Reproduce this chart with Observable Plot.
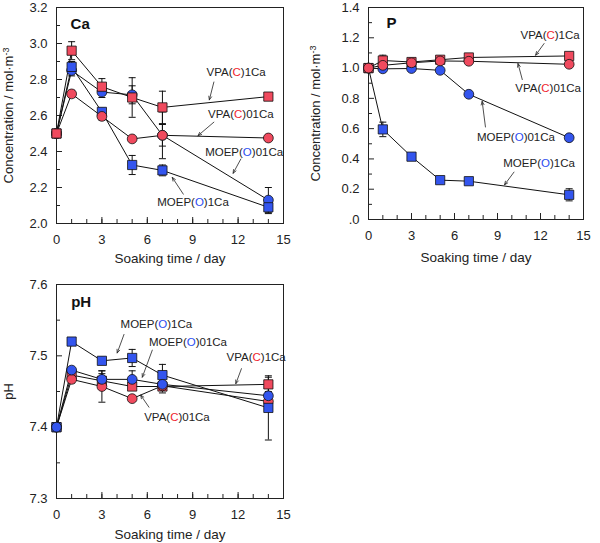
<!DOCTYPE html>
<html>
<head>
<meta charset="utf-8">
<script src="https://cdn.jsdelivr.net/npm/d3@7"></script>
<script src="https://cdn.jsdelivr.net/npm/@observablehq/plot@0.6"></script>
<style>
  html, body { margin: 0; padding: 0; background: #fff; }
  #wrap { position: relative; width: 600px; height: 543px; font-family: "Liberation Sans", Arial, sans-serif; }
  .panel { position: absolute; }
</style>
</head>
<body>
<div id="wrap">
  <div class="panel" id="ca" style="left:0;top:0"></div>
  <div class="panel" id="p" style="left:300px;top:0"></div>
  <div class="panel" id="ph" style="left:0;top:260px"></div>
</div>
<script>
// ---------- data ----------
const days = [0, 1, 3, 5, 7, 14];
const seriesNames = ["VPA(C)1Ca", "VPA(C)01Ca", "MOEP(O)01Ca", "MOEP(O)1Ca"];
const xTicks = [0, 3, 6, 9, 12, 15];
const xMinor = [0, 1, 2, 3, 4, 5, 6, 7, 8, 9, 10, 11, 12, 13, 14, 15];

// Ca panel
const caVPA1 = [2.50, 2.96, 2.76, 2.70, 2.645, 2.705];
const caVPA1Err = [0, 0.05, 0.045, 0.11, 0.09, 0.01];
const caVPA01 = [2.50, 2.72, 2.595, 2.47, 2.49, 2.475];
const caVPA01Err = [0, 0.02, 0.02, 0, 0.06, 0];
const caMOEP01 = [2.50, 2.85, 2.73, 2.715, 2.49, 2.13];
const caMOEP01Err = [0, 0.03, 0.03, 0.05, 0.13, 0.07];
const caMOEP1 = [2.50, 2.87, 2.62, 2.325, 2.295, 2.09];
const caMOEP1Err = [0, 0.03, 0.02, 0.053, 0.03, 0.035];
const caYTicks = [2.0, 2.2, 2.4, 2.6, 2.8, 3.0, 3.2];
const caYMinor = [2.1, 2.3, 2.5, 2.7, 2.9, 3.1];
const caAnnText = ["VPA(C)1Ca", "VPA(C)01Ca", "MOEP(O)01Ca", "MOEP(O)1Ca"];
const caAnnX = [11.87, 12.18, 12.4, 9.02];
const caAnnY = [2.841, 2.609, 2.396, 2.117];
const caArrX1 = [10.4, 10.4, 12.18, 8.38];
const caArrY1 = [2.786, 2.563, 2.358, 2.163];
const caArrX2 = [10.1, 9.35, 11.67, 7.65];
const caArrY2 = [2.687, 2.488, 2.279, 2.256];

// P panel
const pVPA1 = [1.0, 1.05, 1.04, 1.055, 1.07, 1.08];
const pVPA1Err = [0, 0.035, 0.02, 0.015, 0.01, 0.01];
const pVPA01 = [1.0, 1.018, 1.035, 1.047, 1.045, 1.025];
const pVPA01Err = [0, 0, 0, 0, 0, 0];
const pMOEP01 = [1.0, 0.995, 0.997, 0.985, 0.827, 0.54];
const pMOEP01Err = [0, 0, 0, 0, 0, 0];
const pMOEP1 = [1.0, 0.595, 0.415, 0.26, 0.253, 0.163];
const pMOEP1Err = [0, 0.048, 0.01, 0.01, 0.01, 0.04];
const pYTicks = [0, 0.2, 0.4, 0.6, 0.8, 1.0, 1.2, 1.4];
const pYMinor = [0.1, 0.3, 0.5, 0.7, 0.9, 1.1, 1.3];
const pAnnText = ["VPA(C)1Ca", "VPA(C)01Ca", "MOEP(O)01Ca", "MOEP(O)1Ca"];
const pAnnX = [12.67, 12.53, 10.29, 11.9];
const pAnnY = [1.217, 0.864, 0.545, 0.368];
const pArrX1 = [12.25, 10.73, 8.16, 10.15];
const pArrY1 = [1.162, 0.924, 0.611, 0.313];
const pArrX2 = [11.66, 10.43, 7.93, 9.49];
const pArrY2 = [1.085, 1.03, 0.78, 0.229];

// pH panel
const phVPA1 = [7.40, 7.473, 7.465, 7.457, 7.457, 7.46];
const phVPA1Err = [0, 0, 0.01, 0, 0, 0.01];
const phVPA01 = [7.40, 7.467, 7.457, 7.44, 7.458, 7.436];
const phVPA01Err = [0, 0.005, 0.022, 0, 0.01, 0];
const phMOEP01 = [7.40, 7.48, 7.467, 7.467, 7.46, 7.444];
const phMOEP01Err = [0, 0, 0.012, 0.012, 0, 0];
const phMOEP1 = [7.40, 7.52, 7.493, 7.497, 7.473, 7.427];
const phMOEP1Err = [0, 0, 0.005, 0.012, 0.015, 0.045];
const phYTicks = [7.3, 7.4, 7.5, 7.6];
const phYMinor = [7.35, 7.45, 7.55];
const phAnnText = ["MOEP(O)1Ca", "MOEP(O)01Ca", "VPA(C)1Ca", "VPA(C)01Ca"];
const phAnnX = [6.6, 8.69, 13.19, 7.96];
const phAnnY = [7.544, 7.519, 7.498, 7.414];
const phArrX1 = [4.46, 6.33, 12.22, 6.11];
const phArrY1 = [7.530, 7.508, 7.482, 7.428];
const phArrX2 = [4.01, 5.67, 11.85, 5.56];
const phArrY2 = [7.504, 7.47, 7.461, 7.445];

// ---------- styling ----------
const RED = "#f04a5e", BLUE = "#3355ee";
const FONT = "'Liberation Sans', Arial, Helvetica, sans-serif";
const style = {
  "VPA(C)1Ca": {symbol: "square", fill: RED},
  "VPA(C)01Ca": {symbol: "circle", fill: RED},
  "MOEP(O)01Ca": {symbol: "circle", fill: BLUE},
  "MOEP(O)1Ca": {symbol: "square", fill: BLUE}
};
const capSymbol = {draw(ctx, size) { const r = Math.sqrt(size / Math.PI); ctx.moveTo(-r, 0); ctx.lineTo(r, 0); }};

function rows(name, vals, errs) {
  return days.map((d, i) => ({series: name, day: d, v: vals[i], e: errs[i]}));
}

function panel(cfg) {
  const {width, height, ml, mr, mt, mb, ydom, yTicks, yMinor, fmt, series, order, ann, title, titleX, titleY, yLabel, yLabelDx, xLabelDy} = cfg;
  const fw = width - ml - mr, fh = height - mt - mb;
  const all = series.flat();
  const errs = all.filter(d => d.e > 0);
  const annData = ann.text.map((t, i) => ({t, x: ann.x[i], y: ann.y[i], x1: ann.x1[i], y1: ann.y1[i], x2: ann.x2[i], y2: ann.y2[i]}));
  const dotMarks = order.map(name => {
    const data = all.filter(d => d.series === name);
    const s = style[name];
    return Plot.dot(data, {x: "day", y: "v", symbol: () => s.symbol, r: s.symbol === "square" ? 5.2 : 4.9, fill: s.fill, stroke: "#111", strokeWidth: 0.8});
  });
  return Plot.plot({
    width, height, marginLeft: ml, marginRight: mr, marginTop: mt, marginBottom: mb,
    style: {fontFamily: FONT, fontSize: "13px", background: "transparent", overflow: "visible", color: "#222"},
    x: {domain: [0, 15]},
    y: {domain: ydom},
    symbol: {type: "identity"},
    marks: [
      Plot.axisX({ticks: xTicks, tickSize: 0, tickPadding: 11, label: null, fontSize: 13}),
      Plot.axisY({ticks: yTicks, tickSize: 0, tickPadding: 9, label: null, tickFormat: fmt, fontSize: 13}),
      Plot.tickX(xMinor, {x: d => d, insetTop: fh - 4, stroke: "#222"}),
      Plot.tickX(xTicks, {x: d => d, insetTop: fh - 6, stroke: "#222"}),
      Plot.tickY(yTicks, {y: d => d, insetRight: fw - 6, stroke: "#222"}),
      Plot.tickY(yMinor, {y: d => d, insetRight: fw - 4, stroke: "#222"}),
      Plot.frame({stroke: "#222", strokeWidth: 1}),
      ...series.map(s => Plot.line(s, {x: "day", y: "v", stroke: "#111", strokeWidth: 1})),
      Plot.ruleX(errs, {x: "day", y1: d => d.v - d.e, y2: d => d.v + d.e, stroke: "#111", strokeWidth: 1}),
      Plot.dot(errs, {x: "day", y: d => d.v + d.e, symbol: () => capSymbol, r: 3.5, stroke: "#111", strokeWidth: 1}),
      Plot.dot(errs, {x: "day", y: d => d.v - d.e, symbol: () => capSymbol, r: 3.5, stroke: "#111", strokeWidth: 1}),
      ...dotMarks,
      Plot.arrow(annData, {x1: "x1", y1: "y1", x2: "x2", y2: "y2", stroke: "#222", strokeWidth: 0.8, headLength: 7, headAngle: 45}),
      Plot.text(annData, {x: "x", y: "y", text: "t", fontSize: 11.5, fill: "#222"}),
      Plot.text([title], {x: () => titleX, y: () => titleY, text: d => d, textAnchor: "start", fontSize: 15, fontWeight: "bold", fill: "#111"}),
      Plot.text(["Soaking time / day"], {frameAnchor: "bottom", textAnchor: "middle", lineAnchor: "middle", dy: xLabelDy, text: d => d, fontSize: 13.5, fill: "#222"}),
      Plot.text([yLabel], {frameAnchor: "left", textAnchor: "middle", lineAnchor: "middle", dx: -yLabelDx, rotate: -90, text: d => d, fontSize: 13, fill: "#222"})
    ]
  });
}

function colorize(svg) {
  const NS = "http://www.w3.org/2000/svg";
  svg.querySelectorAll("text").forEach(el => {
    if (el.querySelector("tspan")) return;
    const t = el.textContent;
    let m = t.match(/^(.*\()([CO])(\).*)$/);
    if (m) {
      el.textContent = "";
      [[m[1], null], [m[2], m[2] === "C" ? "#f01e2e" : "#2a4cf0"], [m[3], null]].forEach(([s, c]) => {
        const ts = document.createElementNS(NS, "tspan");
        ts.textContent = s;
        if (c) ts.setAttribute("fill", c);
        el.appendChild(ts);
      });
      return;
    }
    m = t.match(/^(.*m)(-3)$/);
    if (m) {
      el.textContent = "";
      const a = document.createElementNS(NS, "tspan"); a.textContent = m[1];
      const b = document.createElementNS(NS, "tspan"); b.textContent = m[2];
      b.setAttribute("dy", "-0.45em"); b.setAttribute("font-size", "9");
      el.appendChild(a); el.appendChild(b);
    }
  });
}

const caSeries = [rows("VPA(C)1Ca", caVPA1, caVPA1Err), rows("VPA(C)01Ca", caVPA01, caVPA01Err), rows("MOEP(O)01Ca", caMOEP01, caMOEP01Err), rows("MOEP(O)1Ca", caMOEP1, caMOEP1Err)];
const pSeries = [rows("VPA(C)1Ca", pVPA1, pVPA1Err), rows("VPA(C)01Ca", pVPA01, pVPA01Err), rows("MOEP(O)01Ca", pMOEP01, pMOEP01Err), rows("MOEP(O)1Ca", pMOEP1, pMOEP1Err)];
const phSeries = [rows("VPA(C)1Ca", phVPA1, phVPA1Err), rows("VPA(C)01Ca", phVPA01, phVPA01Err), rows("MOEP(O)01Ca", phMOEP01, phMOEP01Err), rows("MOEP(O)1Ca", phMOEP1, phMOEP1Err)];

const caPlot = panel({
  width: 300, height: 270, ml: 56, mr: 17, mt: 7, mb: 47,
  ydom: [2.0, 3.2], yTicks: caYTicks, yMinor: caYMinor, fmt: d3.format(".1f"),
  series: caSeries, order: ["MOEP(O)01Ca", "MOEP(O)1Ca", "VPA(C)01Ca", "VPA(C)1Ca"],
  ann: {text: caAnnText, x: caAnnX, y: caAnnY, x1: caArrX1, y1: caArrY1, x2: caArrX2, y2: caArrY2},
  title: "Ca", titleX: 0.93, titleY: 3.106, yLabel: "Concentration / mol·m-3", yLabelDx: 48, xLabelDy: 35
});
const pPlot = panel({
  width: 300, height: 270, ml: 68, mr: 17, mt: 7, mb: 51,
  ydom: [0, 1.4], yTicks: pYTicks, yMinor: pYMinor, fmt: d => d === 0 ? ".0" : d3.format(".1f")(d),
  series: pSeries, order: ["MOEP(O)1Ca", "MOEP(O)01Ca", "VPA(C)1Ca", "VPA(C)01Ca"],
  ann: {text: pAnnText, x: pAnnX, y: pAnnY, x1: pArrX1, y1: pArrY1, x2: pArrX2, y2: pArrY2},
  title: "P", titleX: 1.26, titleY: 1.296, yLabel: "Concentration / mol·m-3", yLabelDx: 53, xLabelDy: 38
});
const phPlot = panel({
  width: 300, height: 283, ml: 56, mr: 17, mt: 24, mb: 45,
  ydom: [7.3, 7.6], yTicks: phYTicks, yMinor: phYMinor, fmt: d3.format(".1f"),
  series: phSeries, order: ["VPA(C)1Ca", "VPA(C)01Ca", "MOEP(O)1Ca", "MOEP(O)01Ca"],
  ann: {text: phAnnText, x: phAnnX, y: phAnnY, x1: phArrX1, y1: phArrY1, x2: phArrX2, y2: phArrY2},
  title: "pH", titleX: 0.97, titleY: 7.575, yLabel: "pH", yLabelDx: 48, xLabelDy: 36
});

[caPlot, pPlot, phPlot].forEach(colorize);
document.getElementById("ca").appendChild(caPlot);
document.getElementById("p").appendChild(pPlot);
document.getElementById("ph").appendChild(phPlot);
</script>
</body>
</html>
